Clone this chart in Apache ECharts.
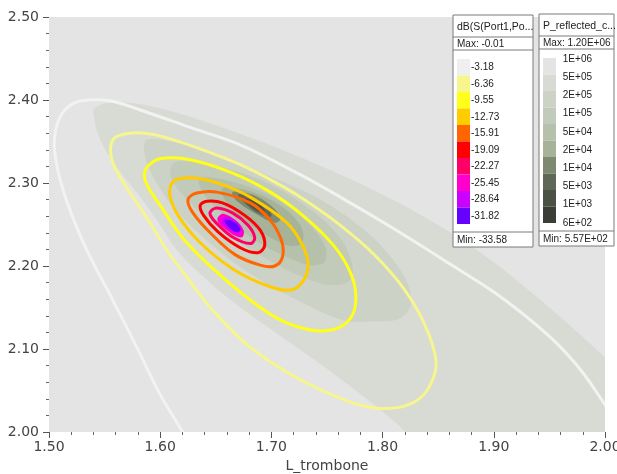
<!DOCTYPE html>
<html>
<head>
<meta charset="utf-8">
<script src="https://cdn.jsdelivr.net/npm/echarts@6/dist/echarts.min.js"></script>
<style>
  html, body { margin: 0; padding: 0; background: #fff; }
  #chart { width: 617px; height: 474px; }
</style>
</head>
<body>
<div id="chart"></div>
<script>
// dB(S(Port1,Port1)) contour levels + colours
const dbLevels = ['-3.18', '-6.36', '-9.55', '-12.73', '-15.91', '-19.09', '-22.27', '-25.45', '-28.64', '-31.82']
const dbColors = ['#efefef', '#f6f68c', '#ffff1a', '#ffcc00', '#ff6600', '#ff0000', '#ff0066', '#ff00cc', '#cc00ff', '#6600ff']
const dbMax = '-0.01'
const dbMin = '-33.58'

// P_reflected contour levels + colours
const pLevels = ['1E+06', '5E+05', '2E+05', '1E+05', '5E+04', '2E+04', '1E+04', '5E+03', '1E+03', '6E+02']
const pColors = ['#e4e5e3', '#d8dbd4', '#cdd2c7', '#c2cab9', '#b6c1ab', '#a7b399', '#7e8a70', '#5f6857', '#4b5145', '#3b3e36']
const pMax = '1.20E+06'
const pMin = '5.57E+02'

// P_reflected filled regions (L_trombone, L_shunt)
const pFill5e5 = [[1.540, 2.382], [1.541, 2.390], [1.552, 2.396], [1.582, 2.395], [1.636, 2.376], [1.726, 2.331], [1.816, 2.275], [1.885, 2.219], [1.942, 2.159], [2.000, 2.090], [2.040, 2.039], [2.103, 1.954], [1.852, 1.954], [1.816, 2.006], [1.755, 2.071], [1.696, 2.127], [1.667, 2.155], [1.642, 2.183], [1.615, 2.219], [1.600, 2.249], [1.582, 2.283], [1.561, 2.319], [1.546, 2.352]]
const pFill2e5 = [[1.588, 2.352], [1.613, 2.349], [1.645, 2.337], [1.690, 2.313], [1.744, 2.280], [1.789, 2.237], [1.816, 2.195], [1.826, 2.159], [1.816, 2.137], [1.789, 2.133], [1.764, 2.135], [1.726, 2.157], [1.690, 2.183], [1.654, 2.217], [1.618, 2.261], [1.595, 2.304], [1.586, 2.334]]
const pFill1e5 = [[1.613, 2.325], [1.645, 2.322], [1.690, 2.304], [1.730, 2.273], [1.760, 2.237], [1.772, 2.205], [1.771, 2.183], [1.753, 2.177], [1.726, 2.188], [1.694, 2.210], [1.658, 2.241], [1.627, 2.276], [1.610, 2.306]]
const pFill5e4 = [[1.636, 2.306], [1.667, 2.301], [1.701, 2.283], [1.730, 2.255], [1.748, 2.225], [1.748, 2.205], [1.735, 2.201], [1.712, 2.212], [1.685, 2.231], [1.656, 2.263], [1.638, 2.289]]
const pFill2e4 = [[1.656, 2.294], [1.681, 2.290], [1.708, 2.273], [1.726, 2.249], [1.728, 2.229], [1.717, 2.224], [1.697, 2.236], [1.676, 2.255], [1.660, 2.276]]
const pFill1e4 = [[1.665, 2.289], [1.683, 2.286], [1.701, 2.271], [1.708, 2.257], [1.703, 2.252], [1.686, 2.263], [1.670, 2.277]]
const pFill5e3 = [[1.670, 2.286], [1.685, 2.281], [1.697, 2.270], [1.700, 2.260], [1.692, 2.261], [1.679, 2.272]]
const pFill1e3 = [[1.676, 2.281], [1.688, 2.276], [1.694, 2.267], [1.690, 2.265], [1.681, 2.272]]

// dB contour lines
const dbLine1 = [[1.625, 1.984], [1.620, 2.000], [1.600, 2.045], [1.579, 2.102], [1.555, 2.165], [1.534, 2.219], [1.519, 2.267], [1.510, 2.304], [1.505, 2.340], [1.506, 2.364], [1.512, 2.384], [1.522, 2.396], [1.535, 2.400], [1.555, 2.399], [1.582, 2.388], [1.627, 2.367], [1.672, 2.346], [1.726, 2.310], [1.771, 2.276], [1.816, 2.240], [1.861, 2.202], [1.906, 2.163], [1.951, 2.114], [1.978, 2.075], [2.000, 2.033], [2.013, 2.008]]
const dbLine2 = [[1.558, 2.353], [1.573, 2.360], [1.591, 2.359], [1.612, 2.352], [1.640, 2.339], [1.672, 2.322], [1.699, 2.304], [1.726, 2.283], [1.762, 2.249], [1.793, 2.213], [1.820, 2.171], [1.838, 2.129], [1.848, 2.087], [1.845, 2.063], [1.834, 2.041], [1.816, 2.030], [1.793, 2.029], [1.771, 2.036], [1.726, 2.063], [1.681, 2.102], [1.647, 2.147], [1.627, 2.181], [1.606, 2.219], [1.591, 2.252], [1.579, 2.276], [1.564, 2.307], [1.556, 2.331]]
const dbLine3 = [[1.586, 2.313], [1.593, 2.325], [1.604, 2.330], [1.627, 2.328], [1.663, 2.313], [1.699, 2.289], [1.730, 2.259], [1.757, 2.223], [1.772, 2.189], [1.776, 2.159], [1.771, 2.137], [1.757, 2.124], [1.735, 2.123], [1.708, 2.135], [1.681, 2.159], [1.649, 2.195], [1.622, 2.231], [1.600, 2.273], [1.588, 2.298]]
const dbLine4 = [[1.609, 2.295], [1.614, 2.304], [1.631, 2.306], [1.654, 2.299], [1.681, 2.283], [1.714, 2.252], [1.728, 2.225], [1.733, 2.201], [1.728, 2.181], [1.717, 2.171], [1.699, 2.175], [1.667, 2.195], [1.636, 2.228], [1.616, 2.261], [1.609, 2.283]]
const dbLine5 = [[1.625, 2.280], [1.633, 2.288], [1.651, 2.289], [1.681, 2.276], [1.699, 2.255], [1.709, 2.231], [1.710, 2.211], [1.703, 2.200], [1.690, 2.201], [1.667, 2.214], [1.645, 2.240], [1.629, 2.265]]
const dbLine6 = [[1.636, 2.273], [1.642, 2.278], [1.656, 2.276], [1.676, 2.261], [1.690, 2.243], [1.694, 2.225], [1.688, 2.216], [1.672, 2.222], [1.652, 2.241], [1.639, 2.261]]
const dbLine7 = [[1.645, 2.265], [1.651, 2.270], [1.665, 2.264], [1.679, 2.249], [1.685, 2.234], [1.681, 2.227], [1.665, 2.235], [1.651, 2.251], [1.646, 2.259]]
const dbFill8 = [[1.652, 2.259], [1.657, 2.263], [1.668, 2.255], [1.675, 2.243], [1.674, 2.235], [1.668, 2.236], [1.658, 2.245], [1.652, 2.253]]
const dbFill9 = [[1.656, 2.257], [1.661, 2.259], [1.670, 2.252], [1.673, 2.243], [1.670, 2.239], [1.661, 2.245], [1.656, 2.251]]
const dbFill10 = [[1.658, 2.255], [1.663, 2.255], [1.670, 2.249], [1.672, 2.243], [1.668, 2.241], [1.661, 2.248]]

/**
 * 等值线/填充区域 custom series
 */
function contourSeries (points, opt, z) {
    return {
        type: 'custom',
        coordinateSystem: 'cartesian2d',
        silent: true,
        animation: false,
        z: z,
        data: [[1.75, 2.25]],
        renderItem: function (params, api) {
            let cs = params.coordSys
            let pts = points.map(p => api.coord(p))
            return {
                type: 'group',
                clipPath: {type: 'rect', shape: {x: cs.x, y: cs.y, width: cs.width, height: cs.height}},
                children: [{
                    type: opt.open ? 'polyline' : 'polygon',
                    shape: {points: pts, smooth: 0.35},
                    style: opt.fill
                        ? {fill: opt.fill, stroke: null}
                        : {fill: null, stroke: opt.stroke, lineWidth: opt.width || 3}
                }]
            }
        }
    }
}

const series = [
    contourSeries(pFill5e5, {fill: pColors[1]}, 2),
    contourSeries(pFill2e5, {fill: pColors[2]}, 3),
    contourSeries(pFill1e5, {fill: pColors[3]}, 4),
    contourSeries(pFill5e4, {fill: pColors[4]}, 5),
    contourSeries(pFill2e4, {fill: pColors[5]}, 6),
    contourSeries(pFill1e4, {fill: pColors[6]}, 7),
    contourSeries(pFill5e3, {fill: pColors[7]}, 8),
    contourSeries(pFill1e3, {fill: pColors[8]}, 9),
    contourSeries(dbLine1, {stroke: '#f2f2f2', open: true}, 10),
    contourSeries(dbLine2, {stroke: dbColors[1]}, 11),
    contourSeries(dbLine3, {stroke: dbColors[2]}, 12),
    contourSeries(dbLine4, {stroke: dbColors[3]}, 13),
    contourSeries(dbLine5, {stroke: dbColors[4]}, 14),
    contourSeries(dbLine6, {stroke: dbColors[5]}, 15),
    contourSeries(dbLine7, {stroke: dbColors[6]}, 16),
    contourSeries(dbFill8, {fill: dbColors[7]}, 17),
    contourSeries(dbFill9, {fill: dbColors[8]}, 18),
    contourSeries(dbFill10, {fill: dbColors[9]}, 19)
]

// 图例框
const legendFont = '10px "Liberation Sans", Arial, sans-serif'
function legendBox (x, y, w, h, title, max, min, levels, colors, centered) {
    let els = []
    els.push({type: 'rect', shape: {x: x, y: y, width: w, height: h}, style: {fill: '#fff', stroke: '#7a7a7a', lineWidth: 1}})
    els.push({type: 'line', shape: {x1: x, y1: y + 22, x2: x + w, y2: y + 22}, style: {stroke: '#7a7a7a', lineWidth: 1}})
    els.push({type: 'line', shape: {x1: x, y1: y + 35, x2: x + w, y2: y + 35}, style: {stroke: '#7a7a7a', lineWidth: 1}})
    els.push({type: 'line', shape: {x1: x, y1: y + h - 15, x2: x + w, y2: y + h - 15}, style: {stroke: '#7a7a7a', lineWidth: 1}})
    els.push({type: 'text', x: x + 4, y: y + 12, style: {text: title, font: '10.5px "Liberation Sans", Arial, sans-serif', fill: '#222', verticalAlign: 'middle'}})
    els.push({type: 'text', x: x + 4, y: y + 29, style: {text: 'Max: ' + max, font: legendFont, fill: '#222', verticalAlign: 'middle'}})
    els.push({type: 'text', x: x + 4, y: y + h - 7, style: {text: 'Min: ' + min, font: legendFont, fill: '#222', verticalAlign: 'middle'}})
    let sy = y + 44
    let sh = 16.5
    colors.forEach((c, i) => {
        els.push({type: 'rect', shape: {x: x + 4, y: sy + i * sh, width: 13, height: sh}, style: {fill: c}})
        if (centered) {
            els.push({type: 'text', x: x + 18, y: sy + i * sh + sh / 2, style: {text: levels[i], font: legendFont, fill: '#222', verticalAlign: 'middle'}})
        } else {
            els.push({type: 'text', x: x + 53, y: sy + 1 + i * 18.2, style: {text: levels[i], font: legendFont, fill: '#222', verticalAlign: 'middle', align: 'right'}})
        }
    })
    return els
}

const axisFont = {color: '#444', fontFamily: 'DejaVu Sans', fontSize: 14}

const option = {
    backgroundColor: '#fff',
    animation: false,
    grid: {left: 49, right: 12, top: 17, bottom: 42, show: true, backgroundColor: '#e4e4e4', borderWidth: 0, containLabel: false, outerBoundsMode: 'none'},
    xAxis: {
        type: 'value', min: 1.5, max: 2.0, interval: 0.1,
        name: 'L_trombone', nameLocation: 'middle', nameGap: 27, nameTextStyle: axisFont,
        axisLine: {show: false},
        axisTick: {show: true, length: 6, lineStyle: {color: '#555'}},
        minorTick: {show: true, splitNumber: 5, length: 3, lineStyle: {color: '#666'}},
        splitLine: {show: false},
        axisLabel: Object.assign({margin: 8, formatter: v => v.toFixed(2)}, axisFont)
    },
    yAxis: {
        type: 'value', min: 2.0, max: 2.5, interval: 0.1,
        name: 'L_shunt', nameLocation: 'middle', nameGap: 30, nameRotate: 90,
        nameTextStyle: Object.assign({padding: [0, 0, 0, 50]}, axisFont),
        axisLine: {show: false},
        axisTick: {show: true, length: 6, lineStyle: {color: '#555'}},
        minorTick: {show: true, splitNumber: 5, length: 3, lineStyle: {color: '#666'}},
        splitLine: {show: false},
        axisLabel: Object.assign({margin: 10, formatter: v => v.toFixed(2)}, axisFont)
    },
    graphic: [].concat(
        legendBox(453, 15, 80, 232, 'dB(S(Port1,Po...', dbMax, dbMin, dbLevels, dbColors, true),
        legendBox(539, 14, 75, 232, 'P_reflected_c...', pMax, pMin, pLevels, pColors, false)
    ).map(e => Object.assign({z: 100}, e)),
    series: series
}

const chart = echarts.init(document.getElementById('chart'))
chart.setOption(option)
</script>
</body>
</html>
